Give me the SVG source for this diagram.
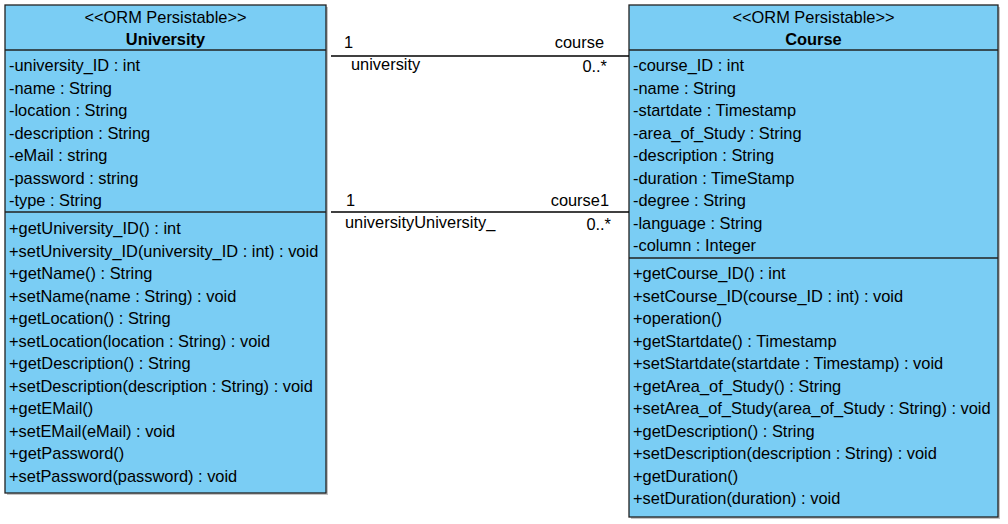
<svg xmlns="http://www.w3.org/2000/svg" width="1008" height="524" viewBox="0 0 1008 524">
<style>
text{font-family:"Liberation Sans",Arial,sans-serif;font-size:16.4px;fill:#000}
.c{text-anchor:middle}
.b{font-weight:bold}
.e{text-anchor:end}
.box{fill:#7ACDF4;stroke:#222;stroke-width:1.3}
.sh{fill:#c4c4c4}
.dv{stroke:#222;stroke-width:1.3}
.ln{stroke:#000;stroke-width:1.3;fill:none}
</style>
<rect width="1008" height="524" fill="#fff"/>
<g id="University">
<rect class="sh" x="7" y="7" width="321" height="488"/>
<rect class="box" x="5" y="5" width="321" height="488"/>
<line class="dv" x1="5" y1="50" x2="326" y2="50"/>
<line class="dv" x1="5" y1="212" x2="326" y2="212"/>
<text class="c" x="165.5" y="22.5">&lt;&lt;ORM Persistable&gt;&gt;</text>
<text class="c b" x="165.5" y="45">University</text>
<text x="9" y="71">-university_ID : int</text>
<text x="9" y="93.5">-name : String</text>
<text x="9" y="116">-location : String</text>
<text x="9" y="138.5">-description : String</text>
<text x="9" y="161">-eMail : string</text>
<text x="9" y="183.5">-password : string</text>
<text x="9" y="206">-type : String</text>
<text x="9" y="234">+getUniversity_ID() : int</text>
<text x="9" y="256.5">+setUniversity_ID(university_ID : int) : void</text>
<text x="9" y="279">+getName() : String</text>
<text x="9" y="301.5">+setName(name : String) : void</text>
<text x="9" y="324">+getLocation() : String</text>
<text x="9" y="346.5">+setLocation(location : String) : void</text>
<text x="9" y="369">+getDescription() : String</text>
<text x="9" y="391.5">+setDescription(description : String) : void</text>
<text x="9" y="414">+getEMail()</text>
<text x="9" y="436.5">+setEMail(eMail) : void</text>
<text x="9" y="459">+getPassword()</text>
<text x="9" y="481.5">+setPassword(password) : void</text>
</g>
<g id="Course">
<rect class="sh" x="631" y="7" width="369" height="512"/>
<rect class="box" x="629" y="5" width="369" height="512"/>
<line class="dv" x1="629" y1="50" x2="998" y2="50"/>
<line class="dv" x1="629" y1="258" x2="998" y2="258"/>
<text class="c" x="813.5" y="22.5">&lt;&lt;ORM Persistable&gt;&gt;</text>
<text class="c b" x="813.5" y="45">Course</text>
<text x="633" y="71">-course_ID : int</text>
<text x="633" y="93.5">-name : String</text>
<text x="633" y="116">-startdate : Timestamp</text>
<text x="633" y="138.5">-area_of_Study : String</text>
<text x="633" y="161">-description : String</text>
<text x="633" y="183.5">-duration : TimeStamp</text>
<text x="633" y="206">-degree : String</text>
<text x="633" y="228.5">-language : String</text>
<text x="633" y="251">-column : Integer</text>
<text x="633" y="279">+getCourse_ID() : int</text>
<text x="633" y="301.5">+setCourse_ID(course_ID : int) : void</text>
<text x="633" y="324">+operation()</text>
<text x="633" y="346.5">+getStartdate() : Timestamp</text>
<text x="633" y="369">+setStartdate(startdate : Timestamp) : void</text>
<text x="633" y="391.5">+getArea_of_Study() : String</text>
<text x="633" y="414">+setArea_of_Study(area_of_Study : String) : void</text>
<text x="633" y="436.5">+getDescription() : String</text>
<text x="633" y="459">+setDescription(description : String) : void</text>
<text x="633" y="481.5">+getDuration()</text>
<text x="633" y="504">+setDuration(duration) : void</text>
</g>
<g id="connectors">
<line class="ln" x1="331" y1="56" x2="629" y2="56"/>
<line class="ln" x1="331" y1="212" x2="629" y2="212"/>
<text x="344" y="48">1</text>
<text class="e" x="604" y="48">course</text>
<text x="351" y="70">university</text>
<text class="e" x="607" y="72">0..*</text>
<text x="346" y="206">1</text>
<text class="e" x="609" y="206">course1</text>
<text x="345" y="228">universityUniversity_</text>
<text class="e" x="611" y="230">0..*</text>
</g>
</svg>
